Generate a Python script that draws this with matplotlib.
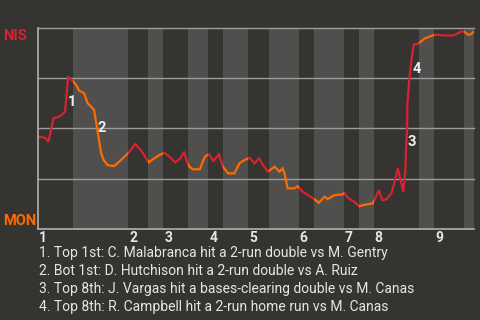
import matplotlib
matplotlib.use('Agg')
import matplotlib.pyplot as plt
import matplotlib.transforms as mtransforms
import numpy as np

# ---------------- data ----------------
teams = ['NIS', 'MON']
team_colors = ['#d42331', '#ff6b00']

# plays in each half inning (top 1st, bot 1st, top 2nd, ...)
half_inning_plays = [7, 11, 4, 3, 5, 4, 3, 5, 4, 6, 3, 6, 3, 3, 9, 3, 6, 2]
inning_labels = ['1', '2', '3', '4', '5', '6', '7', '8', '9']

# game progress (in plays) and NIS win probability
game_x = [0.0, 1.4, 2.1, 3.1, 3.9, 4.7, 5.4, 6.0, 6.4, 6.9,
          7.6, 8.2, 9.2, 9.9, 10.6, 11.2, 11.9, 12.6, 13.1, 13.9,
          15.2, 16.2, 16.9, 18.1, 19.4, 20.6, 22.1, 23.2, 24.2, 25.2,
          26.2, 27.4, 28.4, 29.2, 29.7, 30.2, 30.9, 32.3, 33.0, 33.4,
          34.1, 35.0, 36.1, 36.9, 37.9, 39.2, 40.2, 41.2, 42.2, 43.2,
          44.1, 44.9, 45.9, 47.2, 48.2, 48.8, 49.2, 49.8, 51.2, 51.8,
          52.8, 54.2, 55.2, 56.0, 57.2, 57.8, 59.1, 60.8, 61.1, 61.8,
          63.1, 64.1, 64.8, 66.8, 67.3, 68.0, 68.7, 69.5, 70.5, 71.1,
          71.8, 72.5, 72.9, 73.3, 73.45, 73.65, 73.7, 74.05, 74.4, 74.7,
          75.05, 75.7, 76.4, 77.3, 78.2, 79.1, 79.9, 81.2, 82.9, 83.9,
          84.4, 85.0, 85.9, 86.4, 87.0]
nis_wp = [0.459, 0.454, 0.434, 0.551, 0.556, 0.567, 0.584, 0.756, 0.751, 0.739,
          0.717, 0.689, 0.676, 0.626, 0.609, 0.592, 0.484, 0.376, 0.342, 0.317,
          0.312, 0.334, 0.351, 0.379, 0.422, 0.389, 0.331, 0.351, 0.367, 0.379,
          0.359, 0.331, 0.351, 0.384, 0.334, 0.309, 0.296, 0.296, 0.342, 0.362,
          0.371, 0.337, 0.371, 0.309, 0.276, 0.276, 0.326, 0.342, 0.354, 0.326,
          0.351, 0.317, 0.284, 0.309, 0.284, 0.301, 0.276, 0.201, 0.201, 0.212,
          0.184, 0.162, 0.146, 0.129, 0.159, 0.147, 0.167, 0.171, 0.179, 0.154,
          0.134, 0.111, 0.117, 0.126, 0.151, 0.192, 0.142, 0.146, 0.176, 0.226,
          0.301, 0.226, 0.184, 0.292, 0.401, 0.501, 0.617, 0.734, 0.817, 0.876,
          0.921, 0.921, 0.934, 0.951, 0.959, 0.967, 0.967, 0.964, 0.964, 0.976,
          0.984, 0.984, 0.967, 0.971, 0.984]

event_numbers = ['1', '2', '3', '4']
event_label_x = [6.8, 12.8, 74.65, 75.6]
event_label_wp = [0.634, 0.50, 0.43, 0.797]
event_text = [
    '1. Top 1st: C. Malabranca hit a 2-run double vs M. Gentry',
    '2. Bot 1st: D. Hutchison hit a 2-run double vs A. Ruiz',
    '3. Top 8th: J. Vargas hit a bases-clearing double vs M. Canas',
    '4. Top 8th: R. Campbell hit a 2-run home run vs M. Canas',
]

# ---------------- style ----------------
BG = '#363430'
BAND_DARK = '#363430'
BAND_LIGHT = '#504f4d'
GRID = '#9c9c9c'
TXT = '#e6e6e6'
plt.rcParams['font.family'] = ['Roboto', 'DejaVu Sans']

fig = plt.figure(figsize=(4.8, 3.2), dpi=100, facecolor=BG)
ax = fig.add_axes([38 / 480, 1 - 228.6 / 320, 436 / 480, 200.3 / 320])
ax.set_facecolor(BG)

bounds = np.concatenate([[0], np.cumsum(half_inning_plays)])
ax.set_xlim(bounds[0], bounds[-1])
ax.set_ylim(0, 1)

for i in range(len(half_inning_plays)):
    rect = ax.axvspan(bounds[i], bounds[i + 1], ymin=0, ymax=1,
                      color=BAND_DARK if i % 2 == 0 else BAND_LIGHT,
                      lw=0, zorder=0)
    ln, = ax.plot(game_x, nis_wp, color=team_colors[i % 2], lw=1.6,
                  zorder=3, solid_joinstyle='miter')
    ln.set_clip_path(rect)

for yv in [0.25, 0.5, 0.75, 1.0]:
    ax.axhline(yv, color=GRID, lw=1.0, zorder=2, clip_on=False)

for s in ['top', 'right']:
    ax.spines[s].set_visible(False)
for s in ['left', 'bottom']:
    ax.spines[s].set_color('#b0b0b0')
    ax.spines[s].set_linewidth(1.2)
    ax.spines[s].set_zorder(4)
ax.set_xticks([])
ax.set_yticks([])

# inning labels at start of each top half
trans = mtransforms.blended_transform_factory(ax.transData, ax.transAxes)
for k, lab in enumerate(inning_labels):
    ax.text(bounds[2 * k] + 0.2, -0.012, lab, transform=trans, ha='left', va='top',
            color=TXT, fontsize=10, fontweight='bold')

# team labels
fig.text(3 / 480, 1 - 39.5 / 320, teams[0], color=team_colors[0], fontsize=10.5,
         fontweight='bold', ha='left', va='baseline')
fig.text(3 / 480, 1 - 225 / 320, teams[1], color=team_colors[1], fontsize=10.5,
         fontweight='bold', ha='left', va='baseline')

# event markers
for num, ex, ey in zip(event_numbers, event_label_x, event_label_wp):
    ax.text(ex, ey, num, color='#f0f0f0', fontsize=10.5, fontweight='bold',
            ha='center', va='center', zorder=5)

# event descriptions
for k, t in enumerate(event_text):
    fig.text(39 / 480, 1 - (253.3 + 17.8 * k) / 320, t, color=TXT, fontsize=10.0,
             ha='left', va='center')

fig.savefig('out.png', dpi=100, facecolor=BG)
